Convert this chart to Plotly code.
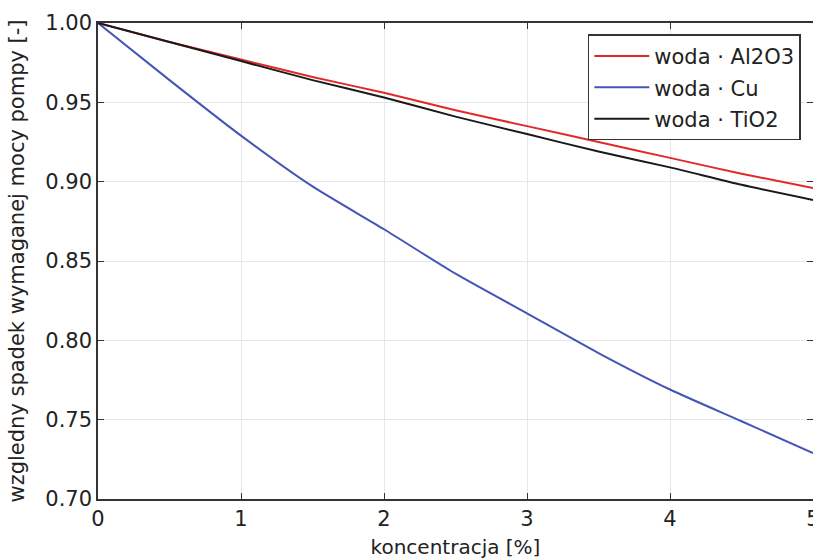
import plotly.graph_objects as go

konc = [0, 0.5, 1, 1.5, 2, 2.5, 3, 3.5, 4, 4.5, 5]
al2o3 = [1.000, 0.988, 0.977, 0.966, 0.956, 0.945, 0.935, 0.925, 0.915, 0.905, 0.896]
cu = [1.000, 0.964, 0.929, 0.897, 0.870, 0.842, 0.817, 0.792, 0.769, 0.749, 0.729]
tio2 = [1.000, 0.988, 0.976, 0.964, 0.953, 0.941, 0.930, 0.919, 0.909, 0.898, 0.8885]

series = [
    ("woda · Al2O3", al2o3, "#e02a2a"),
    ("woda · Cu", cu, "#4455b5"),
    ("woda · TiO2", tio2, "#1a1a1a"),
]

x_ticks = [0, 1, 2, 3, 4, 5]
y_ticks = [0.70, 0.75, 0.80, 0.85, 0.90, 0.95, 1.00]

FONT = "DejaVu Sans"
fig = go.Figure()
for i, (name, vals, col) in enumerate(series):
    fig.add_trace(go.Scatter(x=konc, y=vals, mode="lines", name=name,
                             legendgroup=f"g{i}",
                             line=dict(color=col, width=2, shape="spline", smoothing=0.6)))

axis_common = dict(
    showline=True, linecolor="#333333", linewidth=1.5, mirror="allticks",
    ticks="inside", ticklen=6, tickwidth=1, tickcolor="#333333",
    showgrid=True, gridcolor="#e6e6e6", gridwidth=1, zeroline=False,
    tickfont=dict(family=FONT, size=21, color="#222222"),
    automargin=False, ticklabeloverflow="allow",
)

fig.update_layout(
    width=813, height=559,
    margin=dict(l=98, r=0, t=23, b=60, autoexpand=False),
    paper_bgcolor="white", plot_bgcolor="white",
    font=dict(family=FONT, color="#222222"),
    xaxis=dict(range=[0, 5], tickvals=x_ticks, ticktext=[str(v) for v in x_ticks],
               title=dict(text="koncentracja [%]", font=dict(family=FONT, size=20)),
               **axis_common),
    yaxis=dict(range=[0.70, 1.00], tickvals=y_ticks, ticktext=[f"{v:.2f}" for v in y_ticks],
               title=dict(text="wzgledny spadek wymaganej mocy pompy [-]",
                          font=dict(family=FONT, size=21)),
               **axis_common),
    legend=dict(x=0.983, y=0.976, xanchor="right", yanchor="top",
                bgcolor="white", bordercolor="#333333", borderwidth=1.5,
                font=dict(family=FONT, size=21, color="#222222"),
                tracegroupgap=1, itemwidth=55),
    showlegend=True,
)

page_js = (
    "document.documentElement.style.margin='0';"
    "document.documentElement.style.overflow='hidden';"
    "document.body.style.margin='0';"
    "document.body.style.overflow='hidden';"
)

fig.write_html("out.html", post_script=page_js, config={"displayModeBar": False})
